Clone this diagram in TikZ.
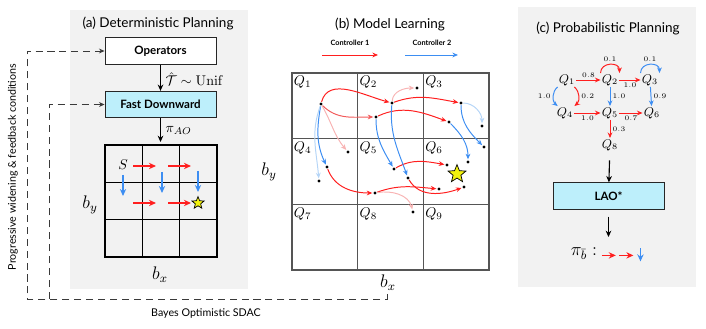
\documentclass[tikz,border=0pt]{standalone}
\usepackage{amsmath,amssymb}
\usepackage[no-math]{fontspec}
\setmainfont{Lato}
\usetikzlibrary{arrows.meta,shapes.geometric}
\definecolor{PanelGray}{HTML}{F2F2F2}
\definecolor{BoxCyan}{HTML}{BDEFFB}
\definecolor{CtrlRed}{HTML}{FF1F1F}
\definecolor{CtrlBlue}{HTML}{3D8EF2}
\definecolor{FadeRed}{HTML}{F8B4B4}
\definecolor{MidRed}{HTML}{F25A5A}
\definecolor{FadeBlue}{HTML}{B5D5F7}
\definecolor{StarYellow}{HTML}{F2F20D}
\definecolor{GridGray}{HTML}{555555}
\definecolor{DashGray}{HTML}{3A3A3A}
\tikzset{
  ttl/.style={font=\fontsize{9.6}{11}\selectfont},
  opbox/.style={draw=black!85,line width=0.6pt,minimum width=2.775cm,minimum height=0.66cm,font=\bfseries\fontsize{8.2}{10}\selectfont},
  legend/.style={font=\bfseries\fontsize{5.2}{6}\selectfont},
  sidelbl/.style={font=\fontsize{7.6}{9}\selectfont},
  mathlbl/.style={font=\fontsize{10}{12}\selectfont},
  bigmath/.style={font=\fontsize{12}{14}\selectfont,scale=1.08},
  qlbl/.style={font=\fontsize{10}{12}\selectfont,inner sep=1pt},
  cq/.style={font=\fontsize{9}{10}\selectfont,inner sep=0.8pt},
  prob/.style={font=\fontsize{4.2}{5}\selectfont,inner sep=1.5pt,text=black},
  blk/.style={-{Stealth[length=4.5pt,width=4pt]},line width=0.8pt,black},
  dashline/.style={DashGray,line width=0.6pt,dash pattern=on 5pt off 3.5pt},
  bdot/.style={circle,fill=black,inner sep=0pt,minimum size=2.2pt},
  redarr/.style={-{Stealth[length=4pt,width=3.4pt]},CtrlRed,line width=0.7pt},
  bluearr/.style={-{Stealth[length=4pt,width=3.4pt]},CtrlBlue,line width=0.7pt},
  fredarr/.style={redarr,FadeRed},
  mredarr/.style={redarr,MidRed},
  fbluearr/.style={bluearr,FadeBlue},
  gredarr/.style={-{Stealth[length=5pt,width=4.5pt]},CtrlRed,line width=1.1pt},
  gbluearr/.style={-{Stealth[length=5pt,width=4.5pt]},CtrlBlue,line width=1.1pt},
  goal/.style={star,star points=5,star point ratio=2.3,fill=StarYellow,draw=black,line width=0.5pt,inner sep=0pt},
  curve/.style={shorten >=0.6pt,shorten <=0.3pt}
}
\begin{document}
\begin{tikzpicture}[x=0.025cm,y=0.025cm]
\path[use as bounding box] (0,0) rectangle (706,329);
\fill[PanelGray] (70,40) rectangle (248,319);
\fill[PanelGray] (518,42) rectangle (696,322);

\node[ttl] (ta) at (158,305) {(a) Deterministic Planning};
\node[opbox,fill=white] (ops) at (160.5,278) {Operators};
\node[opbox,fill=BoxCyan] (fd) at (160.5,224.5) {Fast Downward};
\coordinate (gtop) at (160.5,187);
\draw[blk] (ops) -- node[right,mathlbl,yshift=-1]{$\hat{\mathcal{T}}\sim\mathrm{Unif}$} (fd);
\draw[blk] (fd) -- node[right,mathlbl]{$\pi_{AO}$} (gtop);
\foreach \k in {1,2} {
  \draw[line width=1.1pt] (105+37.33*\k,72) -- (105+37.33*\k,184);
  \draw[line width=1.1pt] (105,72+37.33*\k) -- (217,72+37.33*\k);
}
\draw[line width=1.8pt] (105,72) rectangle (217,184);
\node[mathlbl] (start) at (123,164) {$S$};
\foreach \x/\y in {133/163,168/163,133/126,168/126}
  \draw[gredarr] (\x,\y) -- ++(23,0);
\foreach \x/\y in {123/154,162/157,198/158}
  \draw[gbluearr] (\x,\y) -- ++(0,-21);
\node[goal,minimum size=0.32cm] (goala) at (198,126) {};
\node[bigmath] (bya) at (90,124) {$b_y$};
\node[bigmath] (bxa) at (160,54) {$b_x$};

\coordinate (sdac) at (387,35);
\draw[dashline,-{Stealth[length=4pt,width=3.5pt]}] (sdac) -- (387,30) -- (27,30) |- (ops.west);
\draw[dashline,-{Stealth[length=4pt,width=3.5pt]}] (49,30) |- (fd.west);
\node[sidelbl,rotate=90] (pw) at (13,162) {Progressive widening \& feedback conditions};
\node[sidelbl] (bos) at (206,15) {Bayes Optimistic SDAC};

\node[ttl] (tb) at (390,304) {(b) Model Learning};
\node[legend] (leg1) at (350,286) {Controller 1};
\node[legend] (leg2) at (432,286) {Controller 2};
\draw[redarr] (322,274) -- (378,274);
\draw[bluearr] (405,274) -- (458,274);
\draw[GridGray,line width=0.8pt] (292,59) rectangle (489,256);
\foreach \k in {1,2} {
  \draw[GridGray,line width=0.8pt] (292+65.67*\k,59) -- (292+65.67*\k,256);
  \draw[GridGray,line width=0.8pt] (292,59+65.67*\k) -- (489,59+65.67*\k);
}
\foreach \n in {1,...,9} {
  \pgfmathsetmacro\cx{292+65.67*mod(\n-1,3)}
  \pgfmathsetmacro\cy{256-65.67*floor((\n-1)/3)}
  \node[qlbl,anchor=north west] (q\n) at (\cx+0.3,\cy-1.5) {$Q_{\n}$};
}
\node[bigmath] (bxb) at (388,46) {$b_x$};
\node[bigmath] (byb) at (269,157) {$b_y$};
\node[goal,minimum size=0.47cm] (goalb) at (457,155) {};
\foreach \n/\x/\y in {1/321/225,2/392/226,3/417/241,4/376/212,5/461/226,6/449/207,7/482/203,8/348/177,9/484/182,10/468/167,11/327/162,12/447/164,13/319/148,14/394/160,15/408/151,16/439/140,17/464/142,18/375/136,19/413/117}
  \node[bdot] (d\n) at (\x,\y) {};
\draw[redarr,curve] (d1) to[out=75,in=165] (d2);
\draw[mredarr,curve] (d1) to[out=-45,in=180] (d4);
\draw[fredarr,curve] (d1) to[out=-60,in=130] (d8);
\draw[fredarr,curve] (d2) to[out=85,in=180] (d3);
\draw[redarr,curve] (d2) to[out=20,in=170] (d5);
\draw[redarr,curve] (d4) to[out=25,in=160] (d6);
\draw[redarr,curve] (d11) to[out=-70,in=180] (d18);
\draw[redarr,curve] (d18) to[out=20,in=175] (d16);
\draw[fredarr,curve] (d18) to[out=10,in=105] (d19);
\draw[redarr,curve] (d14) to[out=30,in=170] (d12);
\draw[redarr,curve] (d15) to[out=-60,in=200] (d17);
\draw[bluearr,curve] (d1) to[out=-100,in=115] (d11);
\draw[fbluearr,curve] (d1) to[out=-110,in=95] (d13);
\draw[bluearr,curve] (d4) to[out=-90,in=120] (d14);
\draw[bluearr,curve] (d2) to[out=-95,in=110] (d15);
\draw[bluearr,curve] (d5) to[out=-90,in=135] (d9);
\draw[fbluearr,curve] (d5) to[out=0,in=90] (d7);
\draw[bluearr,curve] (d6) to[out=-45,in=90] (d10);

\node[ttl] (tc) at (608,300) {(c) Probabilistic Planning};
\node[cq] (c1) at (567,249) {$Q_1$};
\node[cq] (c2) at (610,249) {$Q_2$};
\node[cq] (c3) at (650,249) {$Q_3$};
\node[cq] (c4) at (565,216) {$Q_4$};
\node[cq] (c5) at (610,216) {$Q_5$};
\node[cq] (c6) at (652,216) {$Q_6$};
\node[cq] (c8) at (610,184) {$Q_8$};
\draw[redarr] (c1) -- node[above,prob]{$0.8$} (c2);
\draw[redarr] (c2) -- node[below,prob]{$1.0$} (c3);
\draw[bluearr] (c1) to[bend right=50] node[left,prob]{$1.0$} (c4);
\draw[redarr] (c1) to[bend left=50] node[right,prob]{$0.2$} (c4);
\draw[bluearr] (c2) -- node[right,prob]{$1.0$} (c5);
\draw[bluearr] (c3) -- node[right,prob]{$0.9$} (c6);
\draw[redarr] (c4) -- node[below,prob]{$1.0$} (c5);
\draw[redarr] (c5) -- node[below,prob]{$0.7$} (c6);
\draw[redarr] (c5) -- node[right,prob]{$0.3$} (c8);
\draw[redarr] (c2.north west) to[out=90,in=90,min distance=8pt] node[above,prob]{$0.1$} (c2.north east);
\draw[bluearr] (c3.north west) to[out=90,in=90,min distance=8pt] node[above,prob]{$0.1$} (c3.north east);
\node[opbox,fill=BoxCyan] (lao) at (608.5,133) {LAO*};
\coordinate (pol) at (608.5,92);
\draw[blk,shorten <=6pt] (c8) -- (lao);
\draw[blk,shorten <=5pt] (lao) -- (pol);
\node[font=\fontsize{12}{14}\selectfont,scale=1.08,anchor=east,inner sep=1pt] (pib) at (599,75) {$\pi_{\bar b}:$};
\draw[gredarr] ([xshift=2pt,yshift=-1pt]pib.east) -- ++(14,0);
\draw[gredarr] ([xshift=14.5pt,yshift=-1pt]pib.east) -- ++(14,0);
\draw[gbluearr] ([xshift=29.5pt,yshift=4pt]pib.east) -- ++(0,-13);
\end{tikzpicture}
\end{document}
